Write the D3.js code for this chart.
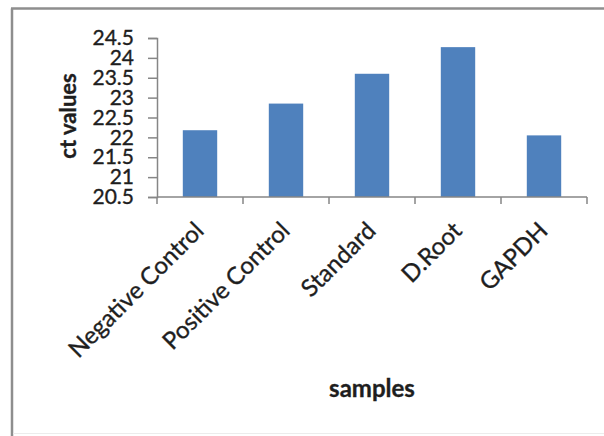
<!DOCTYPE html>
<html>
<head>
<meta charset="utf-8">
<script src="https://cdn.jsdelivr.net/npm/d3@7"></script>
<style>
    html, body { margin: 0; padding: 0; background: #fff; }
    svg { display: block; }
    text { font-family: Lato, "Open Sans", sans-serif; fill: #1e1e1e; stroke: #1e1e1e; stroke-width: 0.35px; }
</style>
</head>
<body>
<div id="chart"></div>
<script>
/* --------------------------------------------------------------
DATOS
-------------------------------------------------------------- */

const SAMPLES = ["Negative Control", "Positive Control", "Standard", "D.Root", "GAPDH"];
const CT_VALUES = [22.18, 22.85, 23.6, 24.27, 22.05];
const Y_TICKS = [20.5, 21, 21.5, 22, 22.5, 23, 23.5, 24, 24.5];

/* --------------------------------------------------------------
RENDER
-------------------------------------------------------------- */

const width = 604;
const height = 436;

const svg = d3.select("#chart")
    .append("svg")
    .attr("width", width)
    .attr("height", height);

// marco del gráfico (sale por la derecha como en el original)
svg.append("line")
    .attr("x1", 12).attr("y1", 436).attr("x2", 12).attr("y2", 8.5)
    .attr("stroke", "#8e8e8e").attr("stroke-width", 2.5);
svg.append("line")
    .attr("x1", 11).attr("y1", 8.5).attr("x2", 604).attr("y2", 8.5)
    .attr("stroke", "#8e8e8e").attr("stroke-width", 2.5);
svg.append("line")
    .attr("x1", 13).attr("y1", 433.5).attr("x2", 604).attr("y2", 433.5)
    .attr("stroke", "#ececec").attr("stroke-width", 1);

const x = d3.scaleBand()
    .domain(SAMPLES)
    .range([157, 587])
    .paddingInner(0.6)
    .paddingOuter(0.3);

const y = d3.scaleLinear()
    .domain([20.5, 24.5])
    .range([197, 38]);

// barras
svg.selectAll("rect.bar")
    .data(SAMPLES)
    .enter()
    .append("rect")
    .attr("class", "bar")
    .attr("x", d => x(d))
    .attr("width", x.bandwidth())
    .attr("y", (d, i) => y(CT_VALUES[i]))
    .attr("height", (d, i) => y(20.5) - y(CT_VALUES[i]))
    .attr("fill", "#4f81bd");

// eje Y
const yAxis = svg.append("g")
    .attr("transform", "translate(157,0)")
    .call(d3.axisLeft(y).tickValues(Y_TICKS).tickSize(9).tickPadding(14).tickFormat(d3.format("")));

yAxis.selectAll("path, line").attr("stroke", "#868686").attr("stroke-width", 1.5);
yAxis.selectAll("text")
    .style("font-size", "21px")
    .attr("fill", "#1e1e1e");

// eje X: marcas entre categorías
const step = x.step();
const edges = d3.range(SAMPLES.length + 1).map(i => 157 + i * step);

svg.append("line")
    .attr("x1", 157).attr("x2", 587)
    .attr("y1", y(20.5)).attr("y2", y(20.5))
    .attr("stroke", "#868686").attr("stroke-width", 1.5);

svg.selectAll("line.xtick")
    .data(edges)
    .enter()
    .append("line")
    .attr("class", "xtick")
    .attr("x1", d => d).attr("x2", d => d)
    .attr("y1", y(20.5)).attr("y2", y(20.5) + 7)
    .attr("stroke", "#868686").attr("stroke-width", 1.5);

// etiquetas giradas
svg.selectAll("text.xlabel")
    .data(SAMPLES)
    .enter()
    .append("text")
    .attr("class", "xlabel")
    .attr("text-anchor", "end")
    .attr("dy", "0.72em")
    .attr("transform", d => `translate(${x(d) + x.bandwidth() / 2 - 7},220) rotate(-45)`)
    .style("font-size", "24px")
    .text(d => d);

// títulos de ejes
svg.append("text")
    .attr("text-anchor", "middle")
    .attr("transform", "translate(76,116) rotate(-90)")
    .style("font-size", "22px")
    .style("font-weight", "bold")
    .text("ct values");

svg.append("text")
    .attr("text-anchor", "middle")
    .attr("x", 372)
    .attr("y", 397)
    .style("font-size", "24px")
    .style("font-weight", "bold")
    .text("samples");
</script>
</body>
</html>
